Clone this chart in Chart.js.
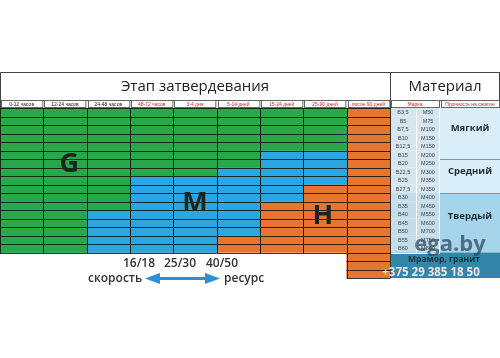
<!DOCTYPE html>
<html>
<head>
<meta charset="utf-8">
<script src="https://cdn.jsdelivr.net/npm/chart.js@4.4.1/dist/chart.umd.min.js"></script>
<style>
  html, body { margin: 0; padding: 0; background: #fff; }
</style>
</head>
<body>
<canvas id="chart" width="500" height="358"></canvas>
<script>
// stage columns (header labels)
const stages = ['0-12 часов', '12-24 часов', '24-48 часов', '48-72 часов', '3-4 дня',
  '5-14 дней', '15-24 дней', '25-90 дней', 'после 90 дней'];
// number of table rows of each hardener type, per column (from the top)
const rowsG = [17, 17, 12, 8, 8, 7, 5, 5, 0];
const rowsM = [0, 0, 5, 9, 9, 8, 6, 4, 0];
const rowsH = [0, 0, 0, 0, 0, 2, 6, 8, 20];
const totalRows = 20;

// material side
const gradesB = ['B3,5', 'B5', 'B7,5', 'B10', 'B12,5', 'B15', 'B20', 'B22,5', 'B25', 'B27,5',
  'B30', 'B35', 'B40', 'B45', 'B50', 'B55', 'B60'];
const gradesM = ['M50', 'M75', 'M100', 'M150', 'M150', 'M200', 'M250', 'M300', 'M350', 'M350',
  'M400', 'M450', 'M550', 'M600', 'M700', 'M750', 'M800'];
const groups = ['Мягкий', 'Средний', 'Твердый', 'Мрамор, гранит'];
const groupRows = [6, 4, 7, 3];
const speeds = ['16/18', '25/30', '40/50'];

const FONT = '"Open Sans", "Noto Sans", sans-serif';
const SMALL = '"Liberation Sans", "DejaVu Sans", sans-serif';

const tablePlugin = {
  id: 'table',
  afterDatasetsDraw(chart) {
    const { ctx, chartArea: a, scales: { x, y } } = chart;
    const w = a.width / stages.length;
    const px = v => Math.round(v) + 0.5;
    ctx.save();

    // cell lines of the stage grid
    ctx.strokeStyle = 'rgba(10,25,10,0.85)';
    ctx.lineWidth = 1;
    stages.forEach((s, i) => {
      const l = x.getPixelForValue(i) - w / 2, r = l + w;
      const total = rowsG[i] + rowsM[i] + rowsH[i];
      const yb = px(y.getPixelForValue(total));
      ctx.beginPath();
      for (let k = 0; k <= total; k++) {
        const yy = px(y.getPixelForValue(k));
        ctx.moveTo(l, yy); ctx.lineTo(r, yy);
      }
      ctx.moveTo(px(l), a.top); ctx.lineTo(px(l), yb);
      ctx.moveTo(px(r), a.top); ctx.lineTo(px(r), yb);
      ctx.stroke();
    });

    // zone letters
    ctx.fillStyle = '#1d241d';
    ctx.font = 'bold 27px ' + FONT;
    ctx.textAlign = 'center';
    ctx.textBaseline = 'middle';
    ctx.fillText('G', x.getPixelForValue(1.1), y.getPixelForValue(6.6));
    ctx.fillText('M', x.getPixelForValue(4), y.getPixelForValue(11.2));
    ctx.fillText('H', x.getPixelForValue(6.95), y.getPixelForValue(12.7));

    // material table
    const m0 = a.right, mB = m0 + 26, mM = m0 + 50, mR = 500;
    const rowY = k => y.getPixelForValue(k);
    // strength column backgrounds
    let start = 0;
    const bgs = ['#d9eef8', '#d9eef8', '#a6d4ea', '#3486a8'];
    groups.forEach((g, gi) => {
      const end = start + groupRows[gi];
      ctx.fillStyle = bgs[gi];
      if (gi === 3) ctx.fillRect(m0 + 1, rowY(start), mR - m0 - 1, rowY(end) - rowY(start));
      else ctx.fillRect(mM, rowY(start), mR - mM, rowY(end) - rowY(start));
      start = end;
    });
    // B / M cells
    gradesB.forEach((b, k) => {
      const t = rowY(k), h = rowY(k + 1) - t;
      ctx.fillStyle = k < 10 ? '#d6e6ee' : '#c4dde9';
      ctx.fillRect(m0 + 1, t, mB - m0 - 1, h);
      ctx.fillRect(mB, t, mM - mB, h);
      ctx.strokeStyle = '#ffffff';
      ctx.beginPath();
      ctx.moveTo(m0, px(t + h)); ctx.lineTo(mM, px(t + h));
      ctx.moveTo(px(mB), t); ctx.lineTo(px(mB), t + h);
      ctx.moveTo(px(mM) - 1, t); ctx.lineTo(px(mM) - 1, t + h);
      ctx.stroke();
      ctx.fillStyle = '#3b4a52';
      ctx.font = '5.5px ' + SMALL;
      ctx.fillText(b, (m0 + mB) / 2, t + h / 2 + 0.5);
      ctx.fillText(gradesM[k], (mB + mM) / 2, t + h / 2 + 0.5);
    });
    // watermark (under the labels)
    ctx.fillStyle = 'rgba(38,66,92,0.7)';
    ctx.font = 'bold 22px ' + FONT;
    ctx.fillText('ega.by', 450, 245);
    // group separators and labels
    start = 0;
    groups.forEach((g, gi) => {
      const end = start + groupRows[gi];
      const t = rowY(start), b = rowY(end);
      if (gi > 0 && gi < 3) {
        ctx.strokeStyle = '#5a9fc4';
        ctx.beginPath(); ctx.moveTo(mM, px(t)); ctx.lineTo(mR, px(t)); ctx.stroke();
      }
      ctx.fillStyle = gi === 3 ? '#17303f' : '#1e2e38';
      ctx.font = 'bold ' + (gi === 3 ? 8.5 : 9.5) + 'px ' + FONT;
      if (gi === 3) ctx.fillText(g, 444, t + 7);
      else ctx.fillText(g, (mM + mR) / 2, gi === 0 ? t + 20 : (t + b) / 2 - (gi === 1 ? 5 : 6));
      start = end;
    });
    ctx.strokeStyle = '#333';
    ctx.beginPath();
    ctx.moveTo(px(m0), a.top); ctx.lineTo(px(m0), y.getPixelForValue(totalRows));
    ctx.moveTo(mR - 0.5, 72); ctx.lineTo(mR - 0.5, 108);
    ctx.stroke();

    // header block
    ctx.strokeStyle = '#444';
    ctx.beginPath();
    ctx.rect(0.5, 72.5, 499, a.top - 72 - 8);
    ctx.moveTo(px(m0), 72); ctx.lineTo(px(m0), a.top);
    ctx.moveTo(0.5, 100); ctx.lineTo(0.5, a.top);
    ctx.stroke();
    ctx.fillStyle = '#222';
    ctx.font = '15px ' + FONT;
    ctx.fillText('Этап затвердевания', m0 / 2, 87);
    ctx.fillText('Материал', (m0 + mR) / 2, 87);
    // column label cells
    const hTop = a.top - 7.5, hH = 7;
    ctx.font = '5px ' + SMALL;
    ctx.strokeStyle = '#666';
    stages.forEach((s, i) => {
      const l = x.getPixelForValue(i) - w / 2;
      ctx.strokeRect(px(l) + 1, hTop, w - 2, hH);
      ctx.fillStyle = i < 3 ? '#222' : '#e8202a';
      ctx.fillText(s, l + w / 2, hTop + hH / 2 + 0.5);
    });
    ctx.fillStyle = '#e8202a';
    ctx.strokeRect(px(m0) + 1, hTop, mM - m0 - 2, hH);
    ctx.fillText('Марка', (m0 + mM) / 2, hTop + hH / 2 + 0.5);
    ctx.strokeRect(px(mM) + 1, hTop, mR - mM - 2, hH);
    ctx.fillText('Прочность на сжатие', (mM + mR) / 2, hTop + hH / 2 + 0.5);

    // phone watermark
    ctx.fillStyle = 'rgba(255,236,236,0.92)';
    ctx.font = 'bold 11.5px ' + FONT;
    ctx.fillText('+375 29 385 18 50', 431, 273);

    // speed / resource annotation
    ctx.fillStyle = '#333';
    ctx.font = '600 12px ' + FONT;
    const sx = [139, 180, 222];
    speeds.forEach((s, i) => ctx.fillText(s, sx[i], 264));
    ctx.textAlign = 'left';
    ctx.fillText('скорость', 88, 279);
    ctx.fillText('ресурс', 224, 279);
    ctx.fillStyle = '#2c90d8';
    ctx.fillRect(155, 277, 56, 3);
    ctx.beginPath();
    ctx.moveTo(145, 278.5); ctx.lineTo(160, 273); ctx.lineTo(160, 284); ctx.closePath();
    ctx.moveTo(220, 278.5); ctx.lineTo(205, 273); ctx.lineTo(205, 284); ctx.closePath();
    ctx.fill();
    ctx.restore();
  }
};

new Chart(document.getElementById('chart'), {
  type: 'bar',
  data: {
    labels: stages,
    datasets: [
      { label: 'G', data: rowsG, backgroundColor: '#29a84b' },
      { label: 'M', data: rowsM, backgroundColor: '#2ba6e2' },
      { label: 'H', data: rowsH, backgroundColor: '#e8752f' }
    ]
  },
  options: {
    responsive: false,
    animation: false,
    devicePixelRatio: 1,
    layout: { padding: { top: 108, left: 0, right: 110, bottom: 80 } },
    datasets: { bar: { barPercentage: 1, categoryPercentage: 1, borderWidth: 0 } },
    plugins: { legend: { display: false }, tooltip: { enabled: false } },
    scales: {
      x: { stacked: true, display: false },
      y: { stacked: true, display: false, reverse: true, min: 0, max: totalRows }
    }
  },
  plugins: [tablePlugin]
});
</script>
</body>
</html>
